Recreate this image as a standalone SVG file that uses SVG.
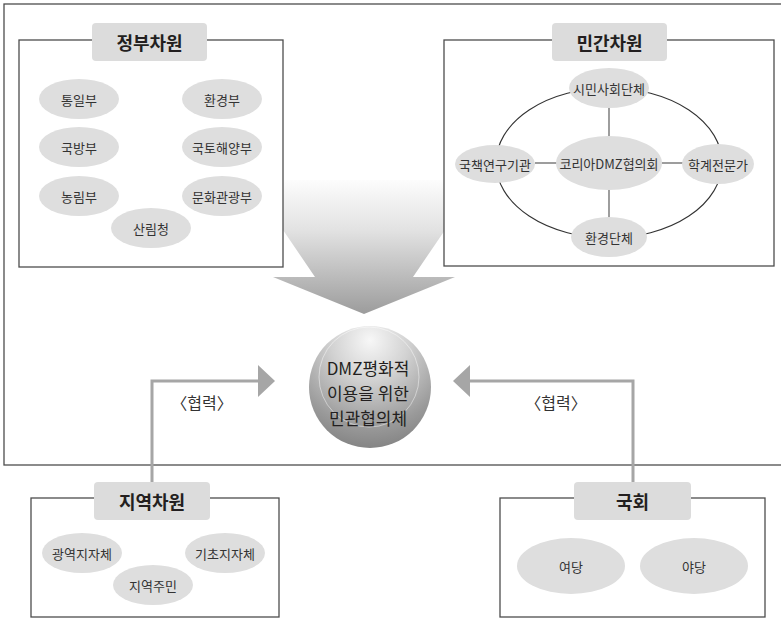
<svg xmlns="http://www.w3.org/2000/svg" width="781" height="619" viewBox="0 0 781 619">
<style>
.frame{fill:none;stroke:#4d4d4d;stroke-width:1.3}
.box{fill:#ffffff;stroke:#4d4d4d;stroke-width:1.3}
.title{fill:#dcdcdc;stroke:none}
.tt{font-family:"Noto Sans CJK KR","Noto Sans",sans-serif;font-size:18px;font-weight:bold;fill:#231f20;text-anchor:middle;dominant-baseline:central}
.el{fill:#dedede;stroke:none}
.et{font-family:"Noto Sans CJK KR","Noto Sans",sans-serif;font-size:13px;fill:#333333;text-anchor:middle;dominant-baseline:central}
.link{stroke:#4d4d4d;stroke-width:1.1;fill:none}
.ring{stroke:#333333;stroke-width:1.1;fill:none}
.coop{stroke:#a6a6a6;stroke-width:3;fill:none}
.head{fill:#a6a6a6;stroke:none}
.lbl{font-family:"Noto Sans CJK KR","Noto Sans",sans-serif;font-size:16px;fill:#333333;text-anchor:middle;dominant-baseline:central}
.ct{font-family:"Noto Sans CJK KR","Noto Sans",sans-serif;font-size:17px;fill:#231f20;text-anchor:middle;dominant-baseline:central}
</style>
<defs>
<linearGradient id="arrowGrad" gradientUnits="userSpaceOnUse" x1="0" y1="175" x2="0" y2="314">
<stop offset="0" stop-color="#ffffff"/>
<stop offset="0.4" stop-color="#e2e2e2"/>
<stop offset="1" stop-color="#9c9c9c"/>
</linearGradient>
<radialGradient id="sphere" cx="370" cy="345" r="110" fx="370" fy="340" gradientUnits="userSpaceOnUse">
<stop offset="0" stop-color="#f7f7f7"/>
<stop offset="0.35" stop-color="#d2d2d2"/>
<stop offset="0.75" stop-color="#9a9a9a"/>
<stop offset="1" stop-color="#7e7e7e"/>
</radialGradient>
</defs>

<rect class="frame" x="4" y="4" width="800" height="461"/>

<g id="bigArrow">
<polygon points="249,180 479,180 413,277 455,277 364,314 273,277 315,277" fill="url(#arrowGrad)"/>
</g>

<g id="gov">
<rect class="box" x="19" y="40" width="264" height="227"/>
<rect class="title" x="92" y="23" width="115" height="38" rx="4"/>
<text class="tt" x="149.5" y="42">정부차원</text>
<ellipse class="el" cx="79" cy="99" rx="40" ry="20"/><text class="et" x="79" y="99">통일부</text>
<ellipse class="el" cx="222" cy="99" rx="40" ry="20"/><text class="et" x="222" y="99">환경부</text>
<ellipse class="el" cx="79" cy="147" rx="40" ry="20"/><text class="et" x="79" y="147">국방부</text>
<ellipse class="el" cx="222" cy="147" rx="40" ry="20"/><text class="et" x="222" y="147">국토해양부</text>
<ellipse class="el" cx="79" cy="196" rx="40" ry="20"/><text class="et" x="79" y="196">농림부</text>
<ellipse class="el" cx="222" cy="196" rx="40" ry="20"/><text class="et" x="222" y="196">문화관광부</text>
<ellipse class="el" cx="151" cy="228" rx="40" ry="20"/><text class="et" x="151" y="228">산림청</text>
</g>

<g id="civil">
<rect class="box" x="444" y="40" width="330" height="226"/>
<rect class="title" x="552" y="23" width="115" height="38" rx="4"/>
<text class="tt" x="609.5" y="42">민간차원</text>
</g>

<g id="connectors">
<ellipse class="ring" cx="609" cy="163" rx="113" ry="75"/>
<line class="link" x1="609" y1="108" x2="609" y2="136"/>
<line class="link" x1="609" y1="190" x2="609" y2="218"/>
<line class="link" x1="535" y1="163" x2="557" y2="163"/>
<line class="link" x1="662" y1="163" x2="683" y2="163"/>
<polyline class="coop" points="152,482 152,381 259,381"/>
<polygon class="head" points="258,365 258,397 275,381"/>
<polyline class="coop" points="633,482 633,381 469,381"/>
<polygon class="head" points="470,365 470,397 453,381"/>
</g>

<g id="civilNodes">
<ellipse class="el" cx="609" cy="88" rx="40" ry="20"/><text class="et" x="609" y="88">시민사회단체</text>
<ellipse class="el" cx="609" cy="163" rx="53" ry="27"/><text class="et" x="609" y="163">코리아DMZ협의회</text>
<ellipse class="el" cx="495" cy="164" rx="40" ry="19"/><text class="et" x="495" y="164">국책연구기관</text>
<ellipse class="el" cx="718" cy="164" rx="36" ry="20"/><text class="et" x="718" y="164">학계전문가</text>
<ellipse class="el" cx="609" cy="237" rx="38" ry="20"/><text class="et" x="609" y="237">환경단체</text>
</g>

<g id="center">
<circle cx="370" cy="387" r="61" fill="url(#sphere)"/>
<circle cx="369" cy="377" r="50" fill="none" stroke="#ffffff" stroke-opacity="0.45" stroke-width="1"/>
<text class="ct" x="368" y="367">DMZ평화적</text>
<text class="ct" x="368" y="392">이용을 위한</text>
<text class="ct" x="368" y="417">민관협의체</text>
</g>

<g id="coopLabels">
<text class="lbl" x="202" y="402">〈협력〉</text>
<text class="lbl" x="556" y="402">〈협력〉</text>
</g>

<g id="local">
<rect class="box" x="31" y="498" width="248" height="119"/>
<rect class="title" x="94" y="482" width="116" height="38" rx="4"/>
<text class="tt" x="152" y="501">지역차원</text>
<ellipse class="el" cx="82" cy="553" rx="40" ry="20"/><text class="et" x="82" y="553">광역지자체</text>
<ellipse class="el" cx="225" cy="553" rx="40" ry="20"/><text class="et" x="225" y="553">기초지자체</text>
<ellipse class="el" cx="153" cy="585" rx="40" ry="20"/><text class="et" x="153" y="585">지역주민</text>
</g>

<g id="assembly">
<rect class="box" x="500" y="498" width="265" height="119"/>
<rect class="title" x="574" y="482" width="117" height="38" rx="4"/>
<text class="tt" x="632.5" y="501">국회</text>
<ellipse class="el" cx="571" cy="566" rx="54" ry="28"/><text class="et" x="571" y="566">여당</text>
<ellipse class="el" cx="694" cy="566" rx="54" ry="28"/><text class="et" x="694" y="566">야당</text>
</g>
</svg>
